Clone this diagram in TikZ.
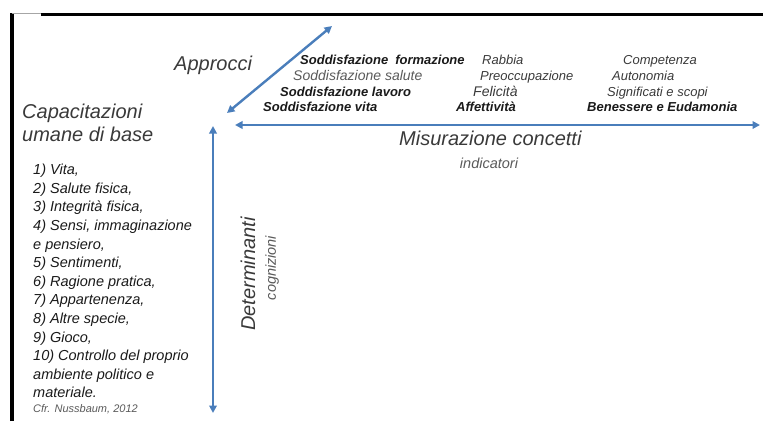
\documentclass[tikz,border=0pt]{standalone}
\usepackage{fontspec}
\setmainfont{Liberation Sans}
\usetikzlibrary{arrows.meta}
\definecolor{axisblue}{HTML}{4A7EBB}
\definecolor{inkdark}{HTML}{1A1A1A}
\definecolor{inkmid}{HTML}{3A3A3A}
\definecolor{inklight}{HTML}{5A5A5A}
\newcommand\fsz[1]{\fontsize{#1}{#1}\selectfont}

\begin{document}
\begin{tikzpicture}[x=1pt,y=-1pt,
  axis/.style={draw=axisblue, line width=2.4pt,
    {Triangle[length=7.5pt,width=7.5pt]}-{Triangle[length=7.5pt,width=7.5pt]}},
  txt/.style={inner sep=0pt, anchor=mid west},
  title/.style={txt, font=\fsz{20}\itshape, text=inkmid},
  subtitle/.style={font=\fsz{14.5}\itshape, text=inklight, inner sep=0pt},
  strong/.style={txt, font=\fsz{13}\bfseries\itshape, text=inkdark},
  plain/.style={txt, font=\fsz{13}\itshape, text=inkmid},
  listitem/.style={txt, font=\fsz{14.5}\itshape, text=inkdark},
]
\useasboundingbox (0,0) rectangle (763,421);

% frame edges
\draw[line width=4pt] (12,421) -- (12,12.7);
\draw[line width=3.3pt] (41,14.4) -- (763,14.4);
\draw[black!35, line width=1.6pt] (12,13.5) -- (41,13.5);

% axes
\coordinate (diagLow) at (227,113);
\coordinate (diagHigh) at (332,26);
\coordinate (horLeft) at (235,125);
\coordinate (horRight) at (760,125);
\coordinate (vertTop) at (213,126);
\coordinate (vertBottom) at (213,413);
\draw[axis] (diagLow) -- (diagHigh);
\draw[axis] (horLeft) -- (horRight);
\draw[axis] (vertTop) -- (vertBottom);

% axis titles
\node[title] (approcci) at (174,68) {Approcci};
\node[title] (capac) at (22,116) {Capacitazioni};
\node[title] (umane) at (22,139) {umane di base};
\node[title] (misura) at (399,143) {Misurazione concetti};
\node[subtitle] (indic) at (489,163) {indicatori};
\node[font=\fsz{20}\itshape, text=inkmid, inner sep=0pt, rotate=90] (determ) at (248,274) {Determinanti};
\node[subtitle, rotate=90] (cogn) at (272,268) {cognizioni};

% approaches: satisfaction
\node[strong] (sForm) at (300,62) {Soddisfazione\hspace{7pt}formazione};
\node[txt, font=\fsz{14}\itshape, text=inklight] (sSal) at (293,78) {Soddisfazione salute};
\node[strong] (sLav) at (280,94) {Soddisfazione lavoro};
\node[strong] (sVita) at (263,109) {Soddisfazione vita};

% approaches: affect
\node[plain] (rabbia) at (482,62) {Rabbia};
\node[plain] (preocc) at (480,78) {Preoccupazione};
\node[plain, font=\fsz{14}\itshape] (felic) at (473,94) {Felicità};
\node[strong] (affett) at (456,109) {Affettività};

% approaches: eudaimonic
\node[plain] (compet) at (623,62) {Competenza};
\node[plain] (auton) at (612,78) {Autonomia};
\node[plain] (signif) at (607,94) {Significati e scopi};
\node[strong] (benes) at (587,109) {Benessere e Eudamonia};

% basic capabilities
\foreach \t [count=\i from 0] in {%
  {1) Vita,}, {2) Salute fisica,}, {3) Integrità fisica,},
  {4) Sensi, immaginazione}, {e pensiero,}, {5) Sentimenti,},
  {6) Ragione pratica,}, {7) Appartenenza,}, {8) Altre specie,},
  {9) Gioco,}, {10) Controllo del proprio}, {ambiente politico e},
  {materiale.}}
  \node[listitem] (item\i) at (33,172+18.6*\i) {\t};
\node[txt, font=\fsz{11}\itshape, text=inklight] (cfr) at (33,410) {Cfr. Nussbaum, 2012};
\end{tikzpicture}
\end{document}
